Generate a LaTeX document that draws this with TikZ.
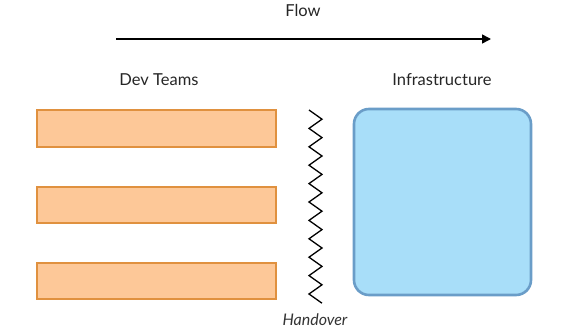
\documentclass[tikz,border=0pt]{standalone}
\usepackage{fontspec}
\setmainfont{Lato}
\usetikzlibrary{arrows.meta}
\definecolor{barfill}{HTML}{FDC898}
\definecolor{bardraw}{HTML}{E0913F}
\definecolor{infill}{HTML}{A8DEF9}
\definecolor{indraw}{HTML}{6A9DC8}
\begin{document}
\begin{tikzpicture}[x=1pt,y=-1pt,
  bar/.style={draw=bardraw,fill=barfill,line width=2.6pt},
  infra/.style={draw=indraw,fill=infill,line width=2.6pt,rounded corners=15pt},
  lbl/.style={font=\fontsize{16.5}{18}\selectfont,text=black!85}]
\useasboundingbox (0,0) rectangle (566,329);
% labels
\node[lbl] (flow) at (303,10) {Flow};
\coordinate (fa) at (116,39);
\coordinate (fb) at (491,39);
\draw[line width=1.6pt,-{Triangle[length=9pt,width=9pt]}] (fa) -- (fb);
\node[lbl] (dev) at (159,80) {Dev Teams};
\node[lbl] (inf) at (442,80) {Infrastructure};
% bars
\draw[bar] (37,110) rectangle (276,147);
\draw[bar] (37,187) rectangle (276,223);
\draw[bar] (37,263) rectangle (276,299);
% infra
\draw[infra] (354,109) rectangle (531,295);
% zigzag
\draw[line width=1.3pt,line join=miter]
  (309,110) \foreach \i in {1,...,21} {
    -- ({309+13*mod(\i,2)},{110+\i*9.2})
  };
\node[font=\fontsize{16}{18}\selectfont\itshape,text=black!80] (hand) at (315,320) {Handover};
\end{tikzpicture}
\end{document}
